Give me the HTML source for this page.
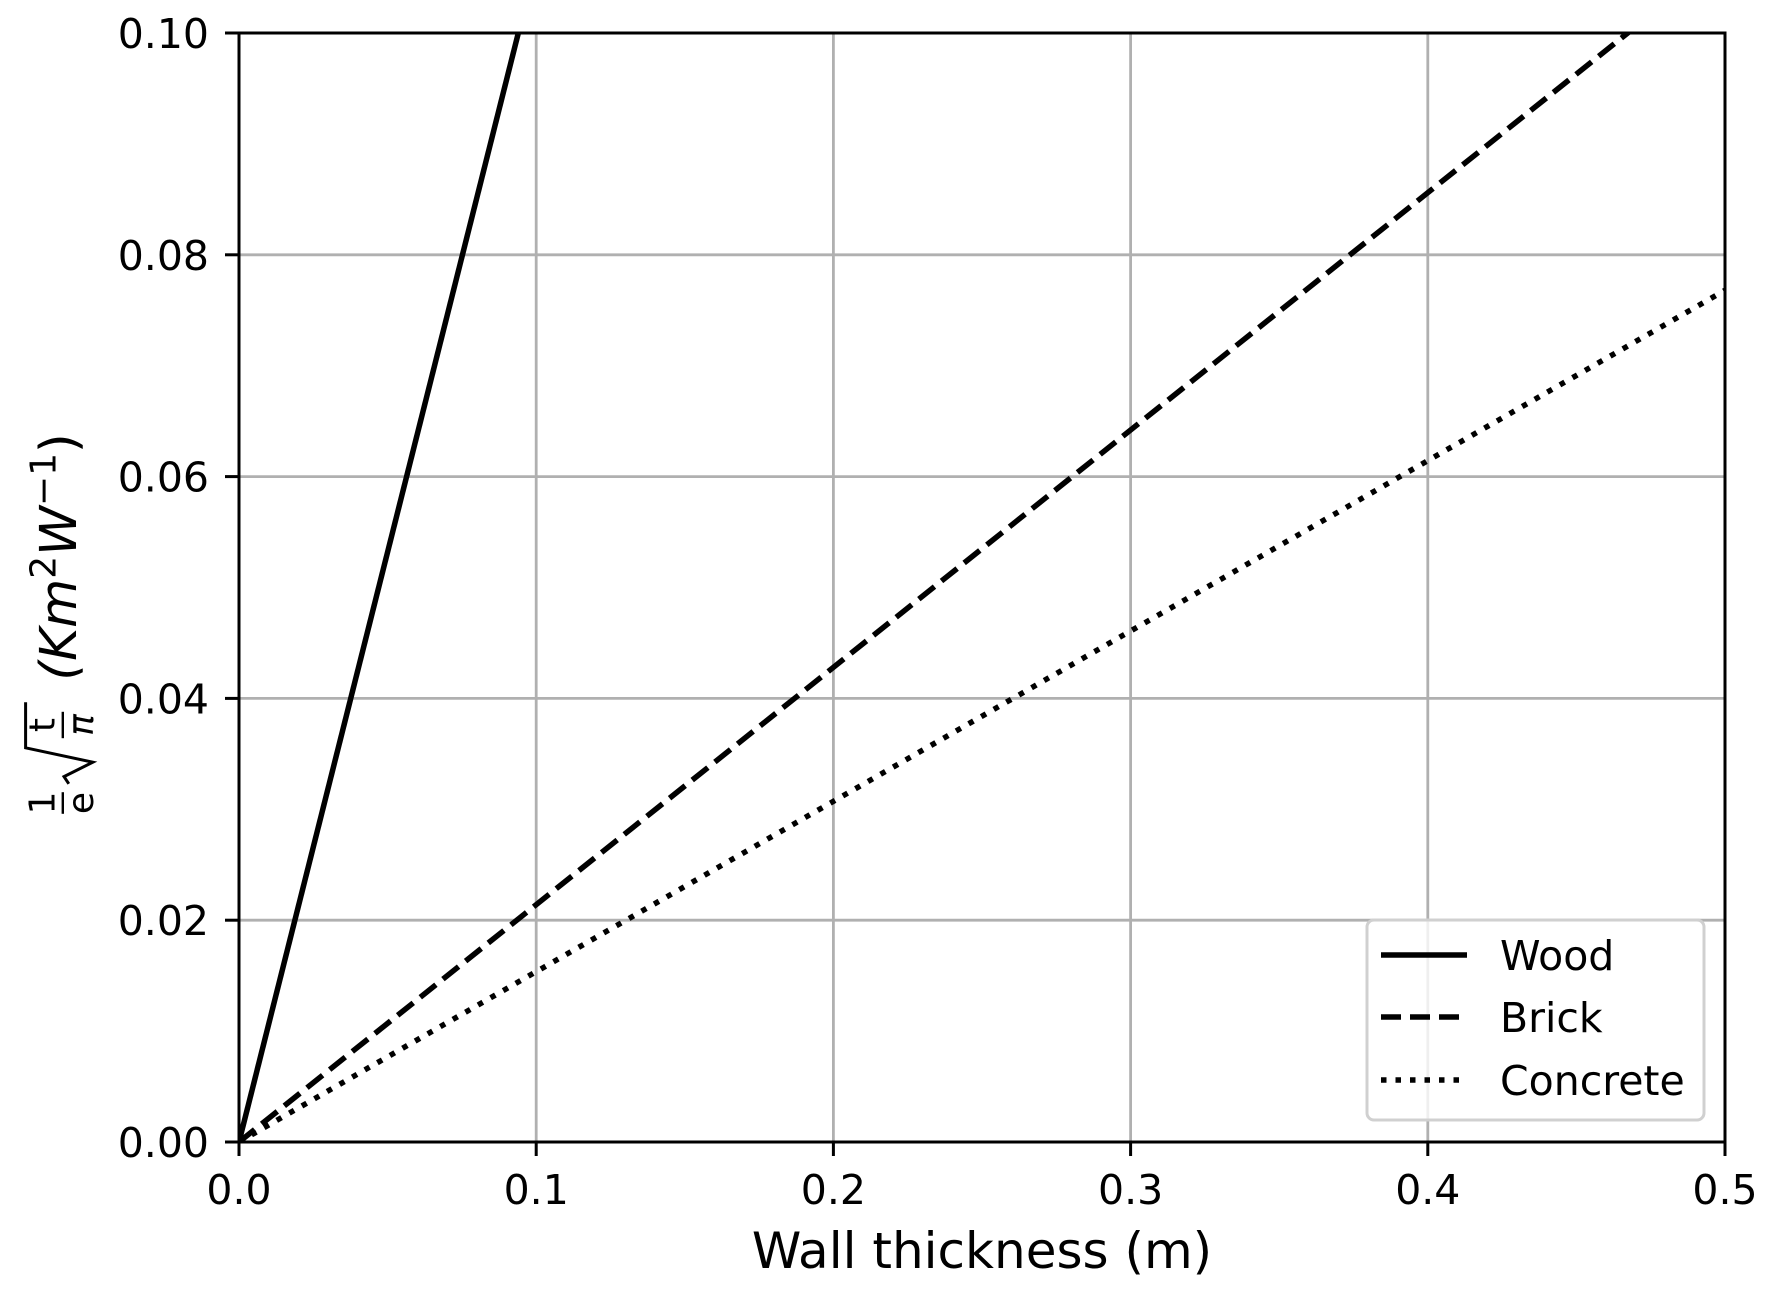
<!DOCTYPE html>
<html><head><meta charset="utf-8"><style>
html,body{margin:0;padding:0;background:#fff;}
svg{display:block;font-family:"DejaVu Sans","Liberation Sans",sans-serif;}
</style></head><body>
<svg id="chart" width="1772" height="1292" viewBox="0 0 1772 1292">
<g id="grid"></g>
<g id="series"></g>
<g id="axes"></g>
<g id="legend"></g>
</svg>
<script>
const xTicks = [0, 0.1, 0.2, 0.3, 0.4, 0.5];
const xTickLabels = ["0.0","0.1","0.2","0.3","0.4","0.5"];
const yTicks = [0, 0.02, 0.04, 0.06, 0.08, 0.10];
const yTickLabels = ["0.00","0.02","0.04","0.06","0.08","0.10"];
const seriesNames = ["Wood","Brick","Concrete"];
const xValues = [0, 0.5];
const woodValues = [0, 0.532];
const brickValues = [0, 0.107];
const concreteValues = [0, 0.0768];

const NS = "http://www.w3.org/2000/svg";
const L=239, R=1725, T=33, B=1142;
const xs = v => L + (v-0)/(0.5-0)*(R-L);
const ys = v => B - (v-0)/(0.1-0)*(B-T);
function mk(tag, attrs, parent){const e=document.createElementNS(NS,tag);for(const k in attrs)e.setAttribute(k,attrs[k]);parent.appendChild(e);return e;}
const svg=document.getElementById('chart');
const grid=document.getElementById('grid'), ser=document.getElementById('series'), axes=document.getElementById('axes'), leg=document.getElementById('legend');

const defs=mk('defs',{},svg);
const cp=mk('clipPath',{id:'clip'},defs);
mk('rect',{x:L,y:T,width:R-L,height:B-T},cp);
ser.setAttribute('clip-path','url(#clip)');

xTicks.forEach((t,i)=>{
  const g=mk('line',{x1:xs(t),x2:xs(t),y1:T,y2:B,stroke:'#b0b0b0','stroke-width':2.8},grid);
  
  
  const tk=mk('line',{x1:xs(t),x2:xs(t),y1:B,y2:B+14,stroke:'#000','stroke-width':3},axes);
  
  
  const tx=mk('text',{x:xs(t),y:1204,'font-size':41,'text-anchor':'middle'},axes);
  tx.textContent=xTickLabels[i];
  
  
});
yTicks.forEach((t,i)=>{
  const g=mk('line',{x1:L,x2:R,y1:ys(t),y2:ys(t),stroke:'#b0b0b0','stroke-width':2.8},grid);
  
  
  const tk=mk('line',{x1:L-14,x2:L,y1:ys(t),y2:ys(t),stroke:'#000','stroke-width':3},axes);
  
  
  const tx=mk('text',{x:L-30,y:ys(t)+15,'font-size':41,'text-anchor':'end'},axes);
  tx.textContent=yTickLabels[i];
  
  
});

const styles=[{d:'none'},{d:'20,9'},{d:'5.5,9'}];
[woodValues,brickValues,concreteValues].forEach((vals,si)=>{
  const pts=xValues.map((x,i)=>xs(x)+','+ys(vals[i])).join(' ');
  const a={points:pts,fill:'none',stroke:'#000','stroke-width':5.5};
  if(styles[si].d!=='none')a['stroke-dasharray']=styles[si].d;
  const p=mk('polyline',a,ser);
  
  
});

const frame=mk('rect',{x:L,y:T,width:R-L,height:B-T,fill:'none',stroke:'#000','stroke-width':3},axes);



const xl=mk('text',{x:982,y:1268,'font-size':50,'text-anchor':'middle'},axes);
xl.textContent='Wall thickness (m)';



// y-axis title
const yt=mk('g',{transform:'translate(76,575) rotate(-90) scale(1.2)'},axes);


mk('text',{x:-190,y:-18,'font-size':30,'text-anchor':'middle'},yt).textContent='1';
mk('line',{x1:-199,x2:-181,y1:-11,y2:-11,stroke:'#000','stroke-width':2},yt);
mk('text',{x:-190,y:14,'font-size':30,'text-anchor':'middle'},yt).textContent='e';
mk('path',{d:'M-174,-6 L-168,-10 L-156,14 L-144,-42 L-106,-42',fill:'none',stroke:'#000','stroke-width':2.5},yt);
mk('text',{x:-125,y:-18,'font-size':30,'text-anchor':'middle'},yt).textContent='t';
mk('line',{x1:-136,x2:-114,y1:-11,y2:-11,stroke:'#000','stroke-width':2},yt);
mk('text',{x:-125,y:14,'font-size':30,'text-anchor':'middle','font-style':'italic'},yt).textContent='π';
const yk=mk('text',{x:-88,y:0,'font-size':42,'font-style':'italic'},yt);
yk.innerHTML='(Km<tspan dy="-17" font-size="30" font-style="normal">2</tspan><tspan dy="17">W</tspan><tspan dy="-17" font-size="30" font-style="normal">−1</tspan><tspan dy="17" font-style="normal">)</tspan>';

// legend
const lb=mk('rect',{x:1367,y:920,width:337,height:200,rx:7,fill:'#fff','fill-opacity':0.8,stroke:'#d0d0d0','stroke-width':3},leg);


const rowsY=[955,1017,1080];
seriesNames.forEach((n,i)=>{
  const a={x1:1381,x2:1467,y1:rowsY[i],y2:rowsY[i],stroke:'#000','stroke-width':5.5};
  if(styles[i].d!=='none')a['stroke-dasharray']=styles[i].d;
  const ln=mk('line',a,leg);
  
  
  const tx=mk('text',{x:1500,y:rowsY[i]+15,'font-size':41},leg);
  tx.textContent=n;
  
  
});
</script>
</body></html>
